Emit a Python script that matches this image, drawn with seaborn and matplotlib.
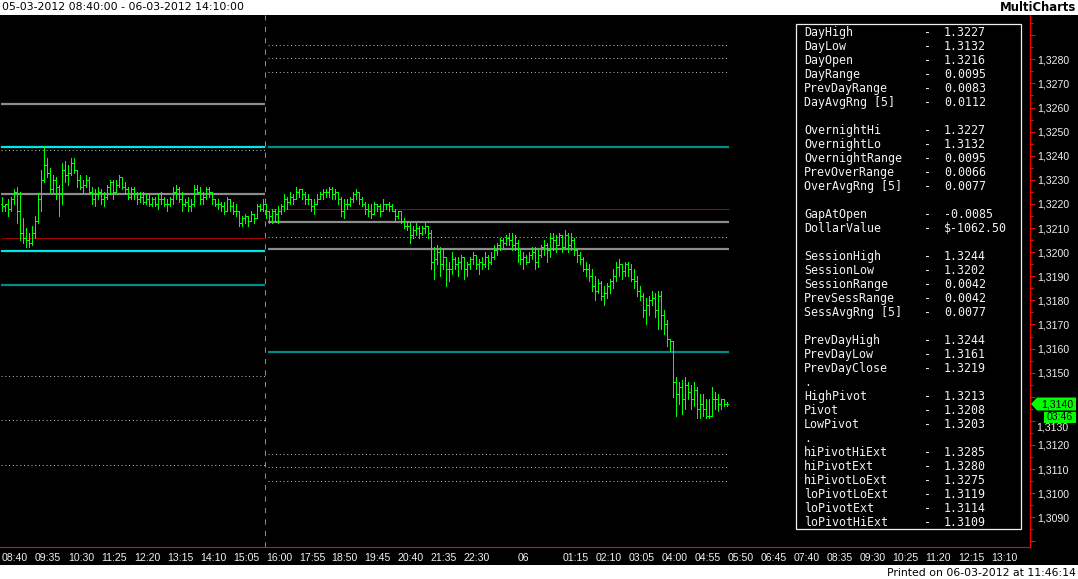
import numpy as np
import matplotlib
matplotlib.use("Agg")
import matplotlib.pyplot as plt
from matplotlib.patches import Rectangle, Polygon
import seaborn as sns

# 5 minute bars, prices given in pips above 1.3000
bar_open = [
    220, 219, 220, 218, 222, 225, 217, 208, 206, 205, 204, 208, 213, 222, 230, 236, 233, 226, 230, 227,
    224, 234, 232, 233, 237, 234, 230, 227, 228, 230, 225, 222, 224, 225, 222, 223, 227, 229, 225, 228,
    231, 227, 226, 223, 226, 224, 222, 223, 221, 222, 220, 222, 220, 222, 222, 220, 220, 222, 225, 226,
    222, 220, 221, 219, 220, 226, 225, 222, 223, 226, 225, 222, 220, 220, 219, 217, 222, 219, 217, 217,
    212, 214, 215, 213, 216, 214, 219, 218,
    220, 217, 215, 217, 216, 217, 219, 222, 221, 223, 222, 225, 226, 224, 222, 222, 219, 220, 222, 224,
    225, 225, 226, 224, 225, 222, 217, 220, 220, 222, 224, 225, 222, 220, 218, 217, 216, 220, 219, 217,
    220, 220, 219, 217, 215, 217, 213, 211, 211, 207, 209, 210, 208, 210, 211, 208, 196, 197, 200, 195,
    198, 193, 193, 197, 195, 196, 198, 193, 195, 197, 199, 195, 196, 195, 198, 196, 198, 201, 203, 205,
    204, 206, 205, 203, 204, 199, 197, 198, 196, 199, 200, 196, 199, 202, 203, 201, 206, 205, 203, 207,
    202, 207, 203, 205, 201, 199, 197, 193, 193, 190, 186, 184, 187, 182, 183, 186, 188, 190, 194, 195,
    192, 195, 193, 189, 188, 184, 182, 176, 178, 180, 181, 176, 182, 174, 170, 164, 163, 146, 141, 144,
    139, 145, 142, 139, 143, 135, 137, 135, 132, 132, 139, 139, 137, 139, 137,
]
bar_high = [
    223, 220, 222, 223, 226, 227, 225, 214, 210, 208, 211, 215, 224, 234, 244, 239, 235, 232, 231, 228,
    237, 238, 236, 239, 239, 234, 232, 230, 232, 231, 227, 226, 227, 226, 225, 228, 230, 230, 230, 232,
    231, 229, 227, 227, 227, 225, 225, 225, 224, 224, 223, 223, 224, 225, 223, 222, 223, 227, 228, 227,
    225, 222, 223, 222, 228, 228, 227, 225, 227, 227, 225, 222, 222, 221, 221, 223, 222, 221, 220, 217,
    215, 216, 215, 217, 216, 220, 220, 222,
    220, 217, 218, 218, 219, 220, 224, 223, 225, 224, 227, 226, 226, 225, 224, 222, 222, 224, 225, 226,
    226, 227, 227, 226, 225, 223, 222, 222, 223, 225, 226, 225, 223, 221, 220, 220, 221, 220, 220, 222,
    220, 221, 220, 218, 217, 217, 214, 213, 212, 211, 212, 211, 211, 212, 211, 209, 202, 203, 202, 201,
    198, 196, 200, 198, 198, 199, 198, 196, 198, 200, 199, 197, 198, 200, 199, 200, 203, 204, 206, 206,
    207, 208, 208, 207, 205, 201, 200, 199, 200, 202, 202, 201, 203, 205, 204, 208, 208, 207, 208, 207,
    209, 208, 208, 206, 201, 200, 198, 196, 195, 193, 190, 189, 188, 186, 187, 189, 193, 196, 197, 195,
    196, 196, 195, 193, 190, 186, 183, 181, 182, 184, 183, 184, 184, 176, 172, 164, 163, 148, 146, 147,
    148, 146, 145, 146, 144, 141, 141, 139, 139, 144, 142, 141, 139, 139, 138,
]
bar_low = [
    217, 217, 215, 217, 220, 212, 205, 204, 202, 202, 203, 206, 212, 217, 229, 231, 225, 225, 222, 215,
    220, 229, 228, 232, 233, 227, 226, 225, 227, 224, 220, 219, 222, 220, 219, 222, 224, 222, 225, 227,
    226, 224, 222, 222, 222, 220, 221, 220, 220, 219, 219, 219, 218, 220, 219, 217, 219, 220, 222, 221,
    217, 219, 217, 217, 219, 224, 220, 220, 222, 223, 220, 219, 218, 217, 216, 217, 217, 216, 215, 211,
    211, 212, 211, 213, 212, 214, 217, 217,
    214, 212, 212, 213, 212, 216, 217, 218, 220, 220, 222, 223, 222, 220, 220, 217, 216, 220, 222, 222,
    223, 223, 222, 222, 220, 215, 214, 218, 219, 221, 222, 220, 219, 216, 215, 214, 216, 217, 215, 217,
    218, 217, 217, 213, 214, 212, 210, 209, 204, 206, 207, 206, 207, 208, 206, 193, 189, 195, 190, 193,
    186, 188, 191, 193, 190, 193, 189, 190, 193, 195, 193, 191, 193, 194, 193, 195, 197, 199, 201, 202,
    203, 203, 201, 201, 196, 195, 193, 195, 196, 197, 193, 194, 198, 199, 196, 198, 201, 200, 203, 200,
    202, 200, 201, 199, 196, 195, 192, 190, 188, 184, 180, 183, 180, 178, 181, 183, 185, 188, 190, 189,
    190, 190, 188, 185, 182, 180, 173, 170, 174, 178, 173, 168, 168, 166, 161, 159, 140, 132, 137, 133,
    135, 139, 135, 136, 131, 131, 132, 131, 131, 132, 135, 134, 135, 136, 136,
]
bar_close = [
    219, 220, 218, 222, 225, 217, 208, 206, 205, 204, 208, 213, 222, 230, 236, 233, 226, 230, 227, 224,
    234, 232, 233, 237, 234, 230, 227, 228, 230, 225, 222, 224, 225, 222, 223, 227, 229, 225, 228, 231,
    227, 226, 223, 226, 224, 222, 223, 221, 222, 220, 222, 220, 222, 222, 220, 220, 222, 225, 226, 222,
    220, 221, 219, 220, 226, 225, 222, 223, 226, 225, 222, 220, 220, 219, 217, 222, 219, 217, 217, 212,
    214, 215, 213, 216, 214, 219, 218, 220,
    217, 215, 217, 216, 217, 219, 222, 221, 223, 222, 225, 226, 224, 222, 222, 219, 220, 222, 224, 225,
    225, 226, 224, 225, 222, 217, 220, 220, 222, 224, 225, 222, 220, 218, 217, 216, 220, 219, 217, 220,
    220, 219, 217, 215, 217, 213, 211, 211, 207, 209, 210, 208, 210, 211, 208, 196, 197, 200, 195, 198,
    193, 193, 197, 195, 196, 198, 193, 195, 197, 199, 195, 196, 195, 198, 196, 198, 201, 203, 205, 204,
    206, 205, 203, 204, 199, 197, 198, 196, 199, 200, 196, 199, 202, 203, 201, 206, 205, 203, 207, 202,
    207, 203, 205, 201, 199, 197, 193, 193, 190, 186, 184, 187, 182, 183, 186, 188, 190, 194, 195, 192,
    195, 193, 189, 188, 184, 182, 176, 178, 180, 181, 176, 182, 174, 170, 164, 163, 146, 141, 144, 139,
    145, 142, 139, 143, 135, 137, 135, 132, 132, 139, 139, 137, 139, 137, 137,
]

# indicator levels, day session (left) and evening session (right)
left_levels = [1.32614, 1.32437, 1.32422, 1.32242, 1.32057, 1.32006, 1.31864, 1.31486, 1.31302, 1.31116]
left_kinds = ["gray", "cyan", "dot", "gray", "red", "cyan", "teal", "dot", "dot", "dot"]
right_levels = [1.32859, 1.32804, 1.32747, 1.32437, 1.32178, 1.32126, 1.32064, 1.32014,
                1.31586, 1.31161, 1.31107, 1.31049]
right_kinds = ["dot", "dot", "dot", "teal", "red", "gray", "dot", "gray", "teal", "dot", "dot", "dot"]
session_break = 87.8

tick_pos = [0, 11, 22, 33, 44, 55, 66, 77, 88, 99, 110, 121, 132, 143, 154, 165, 172,
            187, 198, 209, 220, 231, 242, 253, 264, 275, 286, 297, 308, 319, 330]
tick_labels = ["08:40", "09:35", "10:30", "11:25", "12:20", "13:15", "14:10", "15:05", "16:00",
               "17:55", "18:50", "19:45", "20:40", "21:35", "22:30", "", "06",
               "01:15", "02:10", "03:05", "04:00", "04:55", "05:50", "06:45", "07:40", "08:35",
               "09:30", "10:25", "11:20", "12:15", "13:10"]

stat_names = ["DayHigh", "DayLow", "DayOpen", "DayRange", "PrevDayRange", "DayAvgRng [5]", "",
              "OvernightHi", "OvernightLo", "OvernightRange", "PrevOverRange", "OverAvgRng [5]", "",
              "GapAtOpen", "DollarValue", "",
              "SessionHigh", "SessionLow", "SessionRange", "PrevSessRange", "SessAvgRng [5]", "",
              "PrevDayHigh", "PrevDayLow", "PrevDayClose", ".",
              "HighPivot", "Pivot", "LowPivot", ".",
              "hiPivotHiExt", "hiPivotExt", "hiPivotLoExt", "loPivotLoExt", "loPivotExt", "loPivotHiExt"]
stat_values = ["1.3227", "1.3132", "1.3216", "0.0095", "0.0083", "0.0112", "",
               "1.3227", "1.3132", "0.0095", "0.0066", "0.0077", "",
               "-0.0085", "$-1062.50", "",
               "1.3244", "1.3202", "0.0042", "0.0042", "0.0077", "",
               "1.3244", "1.3161", "1.3219", "",
               "1.3213", "1.3208", "1.3203", "",
               "1.3285", "1.3280", "1.3275", "1.3119", "1.3114", "1.3109"]

tag_price = "1,3140"
tag_time = "03:46"

# ---- style
sns.set_style("dark")
plt.rcParams["font.family"] = ["Liberation Sans", "DejaVu Sans"]
plt.rcParams["axes.grid"] = False

W, H = 1078, 579
fig = plt.figure(figsize=(W / 100, H / 100), dpi=100, facecolor="white")


def fx(px):
    return px / W


def fy(py):
    return 1 - py / H


fig.patches.append(Rectangle((0, fy(565)), 1, fy(15) - fy(565), transform=fig.transFigure,
                             facecolor="black", edgecolor="none", zorder=-5))

ax = fig.add_axes([0, fy(547), fx(1030), fy(15) - fy(547)])
ax.set_facecolor("black")
ax.grid(False)

x = np.arange(len(bar_open))
o = 1.3 + np.array(bar_open) / 10000
h = 1.3 + np.array(bar_high) / 10000
l = 1.3 + np.array(bar_low) / 10000
c = 1.3 + np.array(bar_close) / 10000

green = "#00FF00"
styles = {
    "cyan": dict(color="#00E5E5", lw=1.6, ls="-"),
    "teal": dict(color="#008B8B", lw=1.6, ls="-"),
    "gray": dict(color="#8C8C8C", lw=1.6, ls="-"),
    "red": dict(color="#A00000", lw=0.8, ls="-"),
    "dot": dict(color="#B4B4B4", lw=0.75, ls=(0, (1, 2.6))),
}
for lev, kind in zip(left_levels, left_kinds):
    ax.hlines(lev, -0.3, session_break - 0.1, zorder=2, **styles[kind])
for lev, kind in zip(right_levels, right_kinds):
    ax.hlines(lev, session_break + 1.0, len(x) - 0.5, zorder=2, **styles[kind])

ax.axvline(session_break, color="#8C8C8C", lw=0.75, ls=(0, (5, 6)), zorder=1)

# OHLC bars, 1 px wide
ax.vlines(x, l, h, color=green, lw=0.72, antialiased=False, zorder=3)
ax.hlines(o, x - 0.34, x, color=green, lw=0.72, antialiased=False, zorder=3)
ax.hlines(c, x, x + 0.34, color=green, lw=0.72, antialiased=False, zorder=3)

ax.set_xlim(-0.67, 343.0)
ax.set_ylim(1.307768, 1.329838)

for s in ["top", "left"]:
    ax.spines[s].set_visible(False)
for s in ["right", "bottom"]:
    ax.spines[s].set_color("#FF0000")
    ax.spines[s].set_linewidth(0.8)

# price axis on the right (1,3140 is hidden by the price tag, 1,3130 sits below the time box)
yt = np.round(np.arange(1.3080, 1.32905, 0.001), 4)
hidden = (1.3140, 1.3130)
ax.yaxis.tick_right()
ax.set_yticks(yt)
ax.set_yticklabels([f"{v:.4f}".replace(".", ",") if 1.3085 < v < 1.3285 and v not in hidden else ""
                    for v in yt])
ax.set_yticks(np.round(yt + 0.0005, 5), minor=True)
ax.tick_params(axis="y", which="major", direction="out", length=3.5, width=0.8, color="#FF0000",
               labelcolor="#F0F0F0", labelsize=7.6, pad=2)
ax.tick_params(axis="y", which="minor", direction="out", length=2.5, width=0.8, color="#FF0000")

ax.set_xticks(tick_pos)
ax.set_xticklabels(tick_labels)
ax.tick_params(axis="x", direction="out", length=3, width=0.8, color="#FF0000",
               labelcolor="#F0F0F0", labelsize=7.6, pad=1.5)
for lab in ax.get_xticklabels():
    lab.set_ha("left")

# statistics box
fig.patches.append(Rectangle((fx(796), fy(529)), fx(1021) - fx(796), fy(24) - fy(529),
                             transform=fig.transFigure, facecolor="black", edgecolor="#F0F0F0",
                             lw=0.9, zorder=5))
mono = dict(family="DejaVu Sans Mono", size=8.4, color="#F2F2F2", va="center", zorder=6)
for k, (name, val) in enumerate(zip(stat_names, stat_values)):
    yy = fy(32.3 + 14.0 * k)
    if name:
        fig.text(fx(804), yy, name, ha="left", **mono)
    if val:
        fig.text(fx(923.5), yy, "-", ha="left", **mono)
        fig.text(fx(944), yy, val, ha="left", **mono)

# last price tag
fig.canvas.draw()
ty = H - ax.transData.transform((0, c[-1]))[1]
tag = Polygon([(fx(1031), fy(ty)), (fx(1037), fy(ty - 6.5)), (fx(1076), fy(ty - 6.5)),
               (fx(1076), fy(ty + 6.5)), (fx(1037), fy(ty + 6.5))],
              closed=True, transform=fig.transFigure, facecolor=green, edgecolor="none", zorder=6)
fig.patches.append(tag)
fig.text(fx(1057), fy(ty), tag_price, ha="center", va="center", size=7.6, color="black", zorder=7)
fig.patches.append(Rectangle((fx(1044), fy(ty + 18.5)), fx(1076) - fx(1044), fy(ty + 8) - fy(ty + 18.5),
                             transform=fig.transFigure, facecolor=green, edgecolor="none", zorder=6))
fig.text(fx(1060), fy(ty + 13.3), tag_time, ha="center", va="center", size=7.6, color="black", zorder=7)
y3130 = H - ax.transData.transform((0, 1.3130))[1]
fig.text(fx(1036.5), fy(y3130 + 7), "1,3130", ha="left", va="center", size=7.6, color="#F0F0F0")

# header and footer
fig.text(fx(2), fy(7.5), "05-03-2012 08:40:00 - 06-03-2012 14:10:00", ha="left", va="center",
         family="DejaVu Sans", size=7.8, color="black")
fig.text(fx(1076), fy(7.5), "MultiCharts", ha="right", va="center",
         family="DejaVu Sans", weight="bold", size=8.4, color="black")
fig.text(fx(1076), fy(572.5), "Printed on 06-03-2012 at 11:46:14", ha="right", va="center",
         family="DejaVu Sans", size=7.8, color="black")

fig.savefig("out.png", dpi=100, facecolor="white")
